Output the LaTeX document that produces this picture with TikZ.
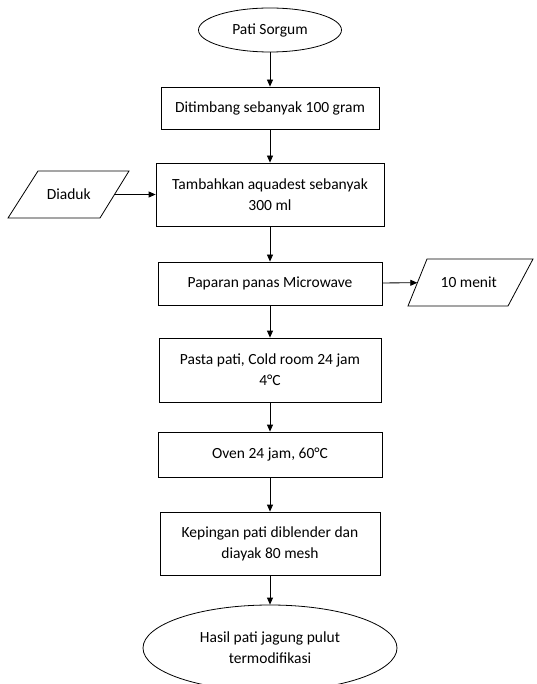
\documentclass[tikz,border=0pt]{standalone}
\usepackage{fontspec}
\setmainfont{Carlito}
\usetikzlibrary{arrows.meta,shapes.geometric}
\begin{document}
\begin{tikzpicture}[x=1pt,y=-1pt,
  every node/.style={font=\fontsize{15.5}{21}\selectfont, inner sep=0pt, align=center},
  procbox/.style={draw=black, line width=0.8pt, rectangle},
  termnode/.style={draw=black, line width=0.8pt, ellipse},
  ioline/.style={draw=black, line width=0.8pt, line join=miter},
  flow/.style={draw=black, line width=0.8pt, -{Triangle[length=7pt,width=6pt]}}]
\useasboundingbox (0,0) rectangle (536,684);
\clip (0,0) rectangle (536,684);
\node[termnode, minimum width=143, minimum height=44] (s) at (270,30) {Pati Sorgum};
\node[procbox, minimum width=218, minimum height=42] (b1) at (270,108) {Ditimbang sebanyak 100 gram};
\node[procbox, minimum width=228, minimum height=63] (b2) at (270,194.5) {Tambahkan aquadest sebanyak\\300 ml};
\node[minimum width=91.5, minimum height=47] (d) at (68.75,194.5) {Diaduk};
\draw[ioline] ([shift={(-60.75,23.5)}]d.center) -- ([shift={(31.25,23.5)}]d.center)
  -- ([shift={(60.25,-23.5)}]d.center) -- ([shift={(-30.75,-23.5)}]d.center) -- cycle;
\node[procbox, minimum width=224, minimum height=43] (b3) at (270,283.5) {Paparan panas Microwave};
\node[minimum width=102.5, minimum height=47] (t) at (468.75,282.5) {10 menit};
\draw[ioline] ([shift={(-60.75,23.5)}]t.center) -- ([shift={(39.25,23.5)}]t.center)
  -- ([shift={(64.25,-23.5)}]t.center) -- ([shift={(-41.75,-23.5)}]t.center) -- cycle;
\node[procbox, minimum width=222, minimum height=64] (b4) at (270,370) {Pasta pati, Cold room 24 jam\\4°C};
\node[procbox, minimum width=224, minimum height=45] (b5) at (270,454.5) {Oven 24 jam, 60°C};
\node[procbox, minimum width=220, minimum height=63] (b6) at (270,543.5) {Kepingan pati diblender dan\\diayak 80 mesh};
\node[termnode, minimum width=254, minimum height=86] (e) at (270,648) {Hasil pati jagung pulut\\termodifikasi};
\draw[flow] (s) -- (b1);
\draw[flow] (b1) -- (b2);
\draw[flow] (d) -- (b2);
\draw[flow] (b2) -- (b3);
\draw[flow] (b3) -- (t);
\draw[flow] (b3) -- (b4);
\draw[flow] (b4) -- (b5);
\draw[flow] (b5) -- (b6);
\draw[flow] (b6) -- (e);
\end{tikzpicture}
\end{document}
